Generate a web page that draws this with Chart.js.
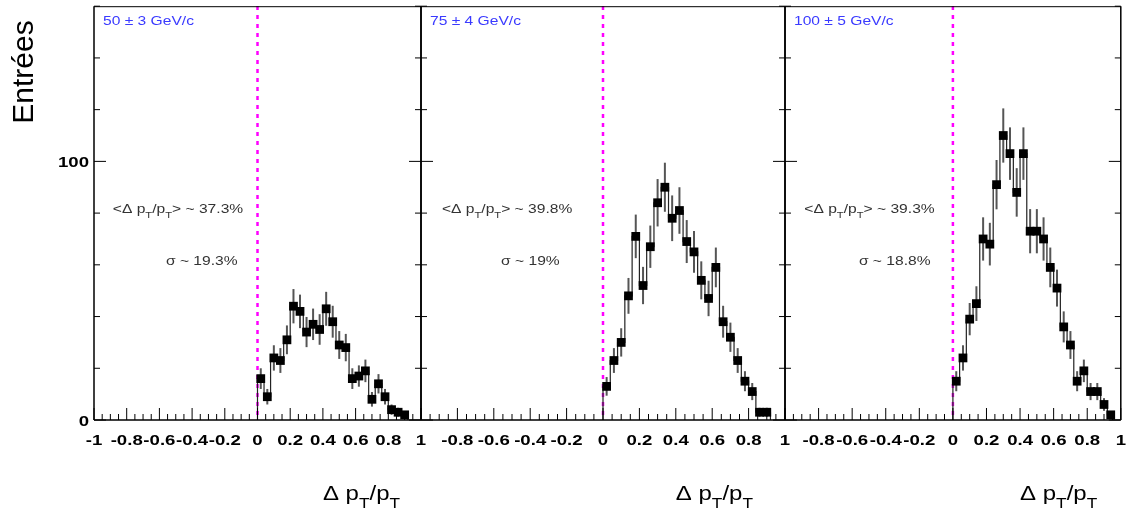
<!DOCTYPE html>
<html>
<head>
<meta charset="utf-8">
<script src="https://cdn.jsdelivr.net/npm/chart.js@4.4.1/dist/chart.umd.min.js"></script>
<style>
body { margin: 0; background: #fff; }
#wrap { position: relative; width: 1127px; height: 511px; }
#wrap canvas { position: absolute; left: 0; top: 0; }
</style>
</head>
<body>
<div id="wrap">
  <canvas id="c1" width="1127" height="511"></canvas>
  <canvas id="c2" width="1127" height="511"></canvas>
  <canvas id="c3" width="1127" height="511"></canvas>
</div>
<script>
// bin centres (bin width 0.04) and entries
var binCenters = [0.02, 0.06, 0.10, 0.14, 0.18, 0.22, 0.26, 0.30, 0.34, 0.38, 0.42, 0.46,
                  0.50, 0.54, 0.58, 0.62, 0.66, 0.70, 0.74, 0.78, 0.82, 0.86, 0.90, 0.94];
var binWidth = 0.04;
var entries50  = [16, 9, 24, 23, 31, 44, 42, 34, 37, 35, 43, 38, 29, 28, 16, 17, 19, 8, 14, 9, 4, 3, 2];
var entries75  = [13, 23, 30, 48, 71, 52, 67, 84, 90, 78, 81, 69, 65, 54, 47, 59, 38, 32, 23, 15, 11, 3, 3];
var entries100 = [15, 24, 39, 45, 70, 68, 91, 110, 103, 88, 103, 73, 73, 70, 59, 51, 36, 29, 15, 19, 11, 11, 6, 2];

var panelLabels = ['50 \u00b1 3 GeV/c', '75 \u00b1 4 GeV/c', '100 \u00b1 5 GeV/c'];
var meanLabels  = ['37.3%', '39.8%', '39.3%'];
var sigmaLabels = ['19.3%', '19%', '18.8%'];

var xTicksFirst = [-1, -0.8, -0.6, -0.4, -0.2, 0, 0.2, 0.4, 0.6, 0.8, 1];
var xTicksOther = [-0.8, -0.6, -0.4, -0.2, 0, 0.2, 0.4, 0.6, 0.8, 1];
var yTicks = [0, 100];

var frames = [{ l: 94, r: 421 }, { l: 421, r: 785 }, { l: 785, r: 1122 }];
var frameTop = 6, frameBottom = 420;
var SX = 1.2;
var FONT = '"Liberation Sans", Arial, Helvetica, sans-serif';

function richText(ctx, parts, x, y, size, weight, color, align) {
    var total = 0, items = [];
    parts.forEach(function (p) {
        var sub = p.charAt(0) === '_';
        var txt = sub ? p.slice(1) : p;
        var fs = sub ? size * 0.72 : size;
        ctx.font = weight + ' ' + fs + 'px ' + FONT;
        var w = ctx.measureText(txt).width;
        items.push({ txt: txt, fs: fs, w: w, dy: sub ? size * 0.38 : 0 });
        total += w;
    });
    ctx.save();
    ctx.translate(x, y);
    ctx.scale(SX, 1);
    ctx.fillStyle = color;
    ctx.textBaseline = 'alphabetic';
    ctx.textAlign = 'left';
    var cx = align === 'right' ? -total : (align === 'center' ? -total / 2 : 0);
    items.forEach(function (it) {
        ctx.font = weight + ' ' + it.fs + 'px ' + FONT;
        ctx.fillText(it.txt, cx, it.dy);
        cx += it.w;
    });
    ctx.restore();
}

function stepPoints(values) {
    var pts = [{ x: binCenters[0] - binWidth / 2, y: 0 }];
    values.forEach(function (v, i) {
        pts.push({ x: binCenters[i] - binWidth / 2, y: v });
        pts.push({ x: binCenters[i] + binWidth / 2, y: v });
    });
    pts.push({ x: binCenters[values.length - 1] + binWidth / 2, y: 0 });
    return pts;
}

function makePanel(idx, canvasId, values) {
    var fr = frames[idx];

    var panelPlugin = {
        id: 'panel' + idx,
        beforeDatasetsDraw: function (chart) {
            var ctx = chart.ctx, xs = chart.scales.x, ys = chart.scales.y;
            // dashed magenta line at zero
            ctx.save();
            ctx.strokeStyle = '#ff00ff';
            ctx.lineWidth = 2.5;
            ctx.setLineDash([4, 5]);
            ctx.beginPath();
            ctx.moveTo(xs.getPixelForValue(0), frameTop);
            ctx.lineTo(xs.getPixelForValue(0), frameBottom);
            ctx.stroke();
            ctx.restore();
            // error bars sqrt(N)
            ctx.save();
            ctx.strokeStyle = '#555';
            ctx.lineWidth = 2;
            values.forEach(function (v, i) {
                var e = Math.sqrt(v);
                var px = xs.getPixelForValue(binCenters[i]);
                ctx.beginPath();
                ctx.moveTo(px, ys.getPixelForValue(Math.max(0, v - e)));
                ctx.lineTo(px, ys.getPixelForValue(v + e));
                ctx.stroke();
            });
            ctx.restore();
        },
        afterDatasetsDraw: function (chart) {
            var ctx = chart.ctx, xs = chart.scales.x, ys = chart.scales.y;
            var a = chart.chartArea;
            ctx.save();
            // frame
            ctx.strokeStyle = '#000';
            ctx.lineWidth = 1;
            ctx.beginPath();
            ctx.moveTo(a.left, a.top + 0.5);
            ctx.lineTo(a.right, a.top + 0.5);
            ctx.stroke();
            ctx.lineWidth = 1.5;
            ctx.beginPath();
            ctx.moveTo(a.left, a.top);
            ctx.lineTo(a.left, a.bottom);
            ctx.moveTo(a.right, a.top);
            ctx.lineTo(a.right, a.bottom);
            ctx.moveTo(a.left, a.bottom);
            ctx.lineTo(a.right, a.bottom);
            ctx.stroke();
            // y ticks on both sides, pointing inward
            ctx.lineWidth = 1;
            for (var v = 0; v <= 160; v += 20) {
                var py = ys.getPixelForValue(v);
                var len = (v % 100 === 0) ? 12 : 6;
                ctx.beginPath();
                ctx.moveTo(a.left, py);
                ctx.lineTo(a.left + len, py);
                ctx.moveTo(a.right, py);
                ctx.lineTo(a.right - len, py);
                ctx.stroke();
            }
            // x ticks, pointing up
            for (var k = -20; k <= 20; k++) {
                var xv = k * 0.05;
                var px = xs.getPixelForValue(xv);
                var l2 = (k % 4 === 0) ? 12 : 6;
                ctx.beginPath();
                ctx.moveTo(px, a.bottom);
                ctx.lineTo(px, a.bottom - l2);
                ctx.stroke();
            }
            ctx.restore();

            // x tick labels
            var xt = idx === 0 ? xTicksFirst : xTicksOther;
            xt.forEach(function (t) {
                richText(ctx, [String(t)], xs.getPixelForValue(t), 445, 15.5, 'bold', '#000', 'center');
            });
            // y tick labels and title, first panel only
            if (idx === 0) {
                yTicks.forEach(function (t) {
                    richText(ctx, [String(t)], a.left - 5, ys.getPixelForValue(t) + 6, 15.5, 'bold', '#000', 'right');
                });
                ctx.save();
                ctx.translate(33, 72);
                ctx.rotate(-Math.PI / 2);
                ctx.font = '30px ' + FONT;
                ctx.fillStyle = '#000';
                ctx.textAlign = 'center';
                ctx.textBaseline = 'alphabetic';
                ctx.fillText('Entr\u00e9es', 0, 0);
                ctx.restore();
            }
            // x axis title
            richText(ctx, ['\u0394 p', '_T', '/p', '_T'], a.left + 0.70 * (a.right - a.left), 500, 20, 'normal', '#000', 'left');
            // energy label
            richText(ctx, [panelLabels[idx]], a.left + 9, 25, 13, 'normal', '#3a3aff', 'left');
            // mean and sigma annotations
            richText(ctx, ['<\u0394 p', '_T', '/p', '_T', '> ~ ' + meanLabels[idx]],
                xs.getPixelForValue(-0.885), ys.getPixelForValue(80), 13, 'normal', '#333', 'left');
            richText(ctx, ['\u03c3 ~ ' + sigmaLabels[idx]],
                xs.getPixelForValue(-0.56), ys.getPixelForValue(60), 13, 'normal', '#333', 'left');
        }
    };

    return new Chart(document.getElementById(canvasId), {
        type: 'scatter',
        data: {
            datasets: [{
                data: values.map(function (v, i) { return { x: binCenters[i], y: v }; }),
                pointStyle: 'rect',
                pointRadius: 6.2,
                backgroundColor: '#000',
                borderColor: '#000',
                borderWidth: 0,
                showLine: false,
                clip: false,
                order: 0
            }, {
                data: stepPoints(values),
                showLine: true,
                borderColor: '#222',
                borderWidth: 1.2,
                pointRadius: 0,
                fill: false,
                tension: 0,
                clip: false,
                order: 1
            }]
        },
        options: {
            responsive: false,
            animation: false,
            events: [],
            layout: {
                padding: { left: fr.l, right: 1127 - fr.r, top: frameTop, bottom: 511 - frameBottom }
            },
            scales: {
                x: { type: 'linear', min: -1, max: 1, display: false },
                y: { type: 'linear', min: 0, max: 160, display: false }
            },
            plugins: { legend: { display: false }, tooltip: { enabled: false } }
        },
        plugins: [panelPlugin]
    });
}

makePanel(0, 'c1', entries50);
makePanel(1, 'c2', entries75);
makePanel(2, 'c3', entries100);
</script>
</body>
</html>
